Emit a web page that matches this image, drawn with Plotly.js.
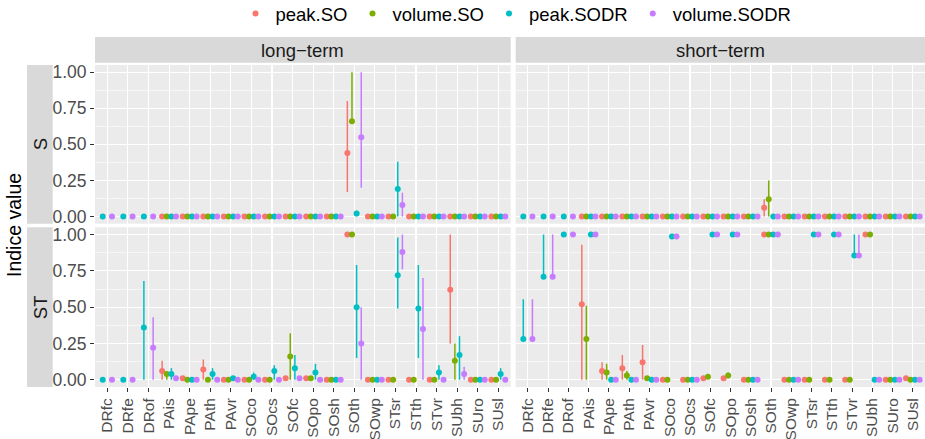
<!DOCTYPE html>
<html>
<head>
<meta charset="utf-8">
<script src="https://cdn.plot.ly/plotly-3.0.1.min.js"></script>
<style>html,body{margin:0;padding:0;background:#fff;}#chart{width:925px;height:439px;}</style>
</head>
<body>
<div id="chart"></div>
<script>
const N = null;
const categories = ['DRfc','DRfe','DRof','PAis','PApe','PAth','PAvr','SOco','SOcs','SOfc','SOpo','SOsh','SOth','SOwp','STsr','STth','STvr','SUbh','SUro','SUsl'];
const seriesNames = ['peak.SO','volume.SO','peak.SODR','volume.SODR'];
const seriesColors = ['#F8766D','#7CAE00','#00BFC4','#C77CFF'];
const rowLabels = ['S','ST'];
const colLabels = ['long\u2212term','short\u2212term'];
const yTickVals = [0,0.25,0.5,0.75,1];
const yTickText = ['0.00','0.25','0.50','0.75','1.00'];

// ---- S, long-term ----
const S_long_peakSO      = [N,N,N,0,0,0,0,0,0,0,0,0,0.44,0,0,0,0,0,0,0];
const S_long_peakSO_lo   = [N,N,N,N,N,N,N,N,N,N,N,N,0.17,N,N,N,N,N,N,N];
const S_long_peakSO_hi   = [N,N,N,N,N,N,N,N,N,N,N,N,0.80,N,N,N,N,N,N,N];
const S_long_volSO       = [N,N,N,0,0,0,0,0,0,0,0,0,0.66,0,0,0,0,0,0,0];
const S_long_volSO_lo    = [N,N,N,N,N,N,N,N,N,N,N,N,0.66,N,N,N,N,N,N,N];
const S_long_volSO_hi    = [N,N,N,N,N,N,N,N,N,N,N,N,1.00,N,N,N,N,N,N,N];
const S_long_peakSODR    = [0,0,0,0,0,0,0,0,0,0,0,0,0.02,0,0.19,0,0,0,0,0];
const S_long_peakSODR_lo = [N,N,N,N,N,N,N,N,N,N,N,N,0,N,0,N,N,N,N,N];
const S_long_peakSODR_hi = [N,N,N,N,N,N,N,N,N,N,N,N,0.04,N,0.38,N,N,N,N,N];
const S_long_volSODR     = [0,0,0,0,0,0,0,0,0,0,0,0,0.55,0,0.08,0,0,0,0,0];
const S_long_volSODR_lo  = [N,N,N,N,N,N,N,N,N,N,N,N,0.20,N,0,N,N,N,N,N];
const S_long_volSODR_hi  = [N,N,N,N,N,N,N,N,N,N,N,N,1.00,N,0.165,N,N,N,N,N];

// ---- S, short-term ----
const S_short_peakSO      = [N,N,N,0,0,0,0,0,0,0,0,0,0.06,0,0,0,0,0,0,0];
const S_short_peakSO_lo   = [N,N,N,N,N,N,N,N,N,N,N,N,0,N,N,N,N,N,N,N];
const S_short_peakSO_hi   = [N,N,N,N,N,N,N,N,N,N,N,N,0.12,N,N,N,N,N,N,N];
const S_short_volSO       = [N,N,N,0,0,0,0,0,0,0,0,0,0.12,0,0,0,0,0,0,0];
const S_short_volSO_lo    = [N,N,N,N,N,N,N,N,N,N,N,N,0,N,N,N,N,N,N,N];
const S_short_volSO_hi    = [N,N,N,N,N,N,N,N,N,N,N,N,0.25,N,N,N,N,N,N,N];
const S_short_peakSODR    = [0,0,0,0,0,0,0,0,0,0,0,0,0,0,0,0,0,0,0,0];
const S_short_peakSODR_lo = [N,N,N,N,N,N,N,N,N,N,N,N,N,N,N,N,N,N,N,N];
const S_short_peakSODR_hi = [N,N,N,N,N,N,N,N,N,N,N,N,N,N,N,N,N,N,N,N];
const S_short_volSODR     = [0,0,0,0,0,0,0,0,0,0,0,0,0,0,0,0,0,0,0,0];
const S_short_volSODR_lo  = [N,N,N,N,N,N,N,N,N,N,N,N,N,N,N,N,N,N,N,N];
const S_short_volSODR_hi  = [N,N,N,N,N,N,N,N,N,N,N,N,N,N,N,N,N,N,N,N];

// ---- ST, long-term ----
const ST_long_peakSO      = [N,N,N,0.06,0.01,0.07,0,0,0,0.01,0.01,0,1.00,0,0,0,0,0.62,0,0];
const ST_long_peakSO_lo   = [N,N,N,0,N,0,N,N,N,N,N,N,N,N,N,N,N,0.25,N,N];
const ST_long_peakSO_hi   = [N,N,N,0.13,N,0.14,N,N,N,N,N,N,N,N,N,N,N,1.00,N,N];
const ST_long_volSO       = [N,N,N,0.04,0,0,0,0,0,0.16,0.01,0,1.00,0,0,0,0,0.13,0,0];
const ST_long_volSO_lo    = [N,N,N,0,N,N,N,N,N,0,N,N,N,N,N,N,N,0,N,N];
const ST_long_volSO_hi    = [N,N,N,0.05,N,N,N,N,N,0.32,N,N,N,N,N,N,N,0.25,N,N];
const ST_long_peakSODR    = [0,0,0.36,0.04,0,0.04,0.01,0.02,0.06,0.08,0.05,0,0.50,0,0.72,0.49,0.05,0.17,0,0.04];
const ST_long_peakSODR_lo = [N,N,0,0,N,0,N,0,0,0,0,N,0.15,N,0.49,0.15,0,0,N,0];
const ST_long_peakSODR_hi = [N,N,0.68,0.08,N,0.08,N,0.05,0.10,0.17,0.11,N,0.79,N,0.98,0.79,0.10,0.30,N,0.08];
const ST_long_volSODR     = [0,0,0.22,0.01,0,0,0,0,0,0.01,0,0,0.25,0,0.88,0.35,0,0.04,0,0];
const ST_long_volSODR_lo  = [N,N,0,N,N,N,N,N,N,N,N,N,0,N,0.76,0,N,0,N,N];
const ST_long_volSODR_hi  = [N,N,0.43,N,N,N,N,N,N,N,N,N,0.50,N,1.00,0.70,N,0.09,N,N];

// ---- ST, short-term ----
const ST_short_peakSO      = [N,N,N,0.52,0.06,0.08,0.12,0,0,0.01,0.01,0,1.00,0,0,0,0,1.00,0,0.01];
const ST_short_peakSO_lo   = [N,N,N,0,0,0,0,N,N,N,N,N,N,N,N,N,N,N,N,N];
const ST_short_peakSO_hi   = [N,N,N,0.93,0.12,0.17,0.24,N,N,N,N,N,N,N,N,N,N,N,N,N];
const ST_short_volSO       = [N,N,N,0.28,0.05,0.03,0.01,0,0,0.02,0.03,0,1.00,0,0,0,0,1.00,0,0];
const ST_short_volSO_lo    = [N,N,N,0,0,0,N,N,N,N,0.01,N,N,N,N,N,N,N,N,N];
const ST_short_volSO_hi    = [N,N,N,0.51,0.11,0.06,N,N,N,N,0.05,N,N,N,N,N,N,N,N,N];
const ST_short_peakSODR    = [0.28,0.71,1.00,1.00,0,0,0,0.986,0,1.00,1.00,0,1.00,0,1.00,1.00,0.856,0,0,0];
const ST_short_peakSODR_lo = [0.28,0.71,N,N,N,N,N,N,N,N,N,N,N,N,N,N,0.856,N,N,N];
const ST_short_peakSODR_hi = [0.555,1.00,N,N,N,N,N,N,N,N,N,N,N,N,N,N,1.00,N,N,N];
const ST_short_volSODR     = [0.28,0.71,1.00,1.00,0,0,0,0.986,0,1.00,1.00,0,1.00,0,1.00,1.00,0.856,0,0,0];
const ST_short_volSODR_lo  = [0.28,0.71,N,N,N,N,N,N,N,N,N,N,N,N,N,N,0.856,N,N,N];
const ST_short_volSODR_hi  = [0.555,1.00,N,N,N,N,N,N,N,N,N,N,N,N,N,N,1.00,N,N,N];

const panels = [
  {xa:'x',  ya:'y',  series:[[S_long_peakSO,S_long_peakSO_lo,S_long_peakSO_hi],[S_long_volSO,S_long_volSO_lo,S_long_volSO_hi],[S_long_peakSODR,S_long_peakSODR_lo,S_long_peakSODR_hi],[S_long_volSODR,S_long_volSODR_lo,S_long_volSODR_hi]]},
  {xa:'x2', ya:'y',  series:[[S_short_peakSO,S_short_peakSO_lo,S_short_peakSO_hi],[S_short_volSO,S_short_volSO_lo,S_short_volSO_hi],[S_short_peakSODR,S_short_peakSODR_lo,S_short_peakSODR_hi],[S_short_volSODR,S_short_volSODR_lo,S_short_volSODR_hi]]},
  {xa:'x',  ya:'y2', series:[[ST_long_peakSO,ST_long_peakSO_lo,ST_long_peakSO_hi],[ST_long_volSO,ST_long_volSO_lo,ST_long_volSO_hi],[ST_long_peakSODR,ST_long_peakSODR_lo,ST_long_peakSODR_hi],[ST_long_volSODR,ST_long_volSODR_lo,ST_long_volSODR_hi]]},
  {xa:'x2', ya:'y2', series:[[ST_short_peakSO,ST_short_peakSO_lo,ST_short_peakSO_hi],[ST_short_volSO,ST_short_volSO_lo,ST_short_volSO_hi],[ST_short_peakSODR,ST_short_peakSODR_lo,ST_short_peakSODR_hi],[ST_short_volSODR,ST_short_volSODR_lo,ST_short_volSODR_hi]]}
];

const DODGE = 0.9;
const traces = [];
panels.forEach((p, pi) => {
  const xs = p.series.map(() => []);
  categories.forEach((c, i) => {
    const present = p.series.map(s => s[0][i] !== null);
    const n = present.filter(Boolean).length;
    let k = 0;
    p.series.forEach((s, si) => {
      if (present[si]) {
        xs[si][i] = (i + 1) - DODGE/2 + (k + 0.5) * DODGE / n;
        k++;
      } else xs[si][i] = null;
    });
  });
  p.series.forEach((s, si) => {
    const [v, lo, hi] = s;
    const X = [], Y = [], plus = [], minus = [];
    v.forEach((val, i) => {
      if (val === null) return;
      X.push(xs[si][i]); Y.push(val);
      plus.push(hi[i] === null ? 0 : hi[i] - val);
      minus.push(lo[i] === null ? 0 : val - lo[i]);
    });
    traces.push({
      type:'scatter', mode:'markers', x:X, y:Y, xaxis:p.xa, yaxis:p.ya,
      name:seriesNames[si], legendgroup:seriesNames[si], showlegend: pi === 0,
      marker:{color:seriesColors[si], size:6},
      error_y:{type:'data', symmetric:false, array:plus, arrayminus:minus, width:0, thickness:1.5, color:seriesColors[si]},
      cliponaxis:false, hoverinfo:'skip'
    });
  });
});

const W = 925, H = 439, ML = 95, MR = 0, MT = 65, MB = 52;
const PW = W - ML - MR, PH = H - MT - MB;
const px = x => (x - ML) / PW;
const py = y => (H - MB - y) / PH;

const xLong = [0, px(510.7)], xShort = [px(515.7), 1];
const yS = [py(223.7), 1], yST = [0, py(227.3)];

const tickIdx = categories.map((c, i) => i + 1);
const xax = dom => ({
  domain:dom, range:[0.4, 20.6], anchor:'y2', tickmode:'array', tickvals:tickIdx, ticktext:categories,
  tickangle:-90, ticks:'outside', ticklen:4, tickwidth:1, tickcolor:'#333333',
  showgrid:true, gridcolor:'#FFFFFF', gridwidth:1.1, zeroline:false, showline:false,
  tickfont:{size:15.5, color:'#4D4D4D'}, fixedrange:true
});
const yax = dom => ({
  domain:dom, range:[-0.05, 1.05], anchor:'x', tickmode:'array', tickvals:yTickVals, ticktext:yTickText,
  ticks:'outside', ticklen:4, tickwidth:1, tickcolor:'#333333',
  showgrid:true, gridcolor:'#FFFFFF', gridwidth:1.1, zeroline:false, showline:false,
  minor:{tickvals:[0.125,0.375,0.625,0.875], showgrid:true, gridcolor:'#FFFFFF', gridwidth:0.55, ticks:''},
  tickfont:{size:17.5, color:'#4D4D4D'}, fixedrange:true
});

const stripFill = '#D9D9D9';
const shapes = [
  {type:'rect', xref:'paper', yref:'paper', x0:xLong[0], x1:xLong[1], y0:py(62.7), y1:py(37), fillcolor:stripFill, line:{width:0}, layer:'below'},
  {type:'rect', xref:'paper', yref:'paper', x0:xShort[0], x1:xShort[1], y0:py(62.7), y1:py(37), fillcolor:stripFill, line:{width:0}, layer:'below'},
  {type:'rect', xref:'paper', yref:'paper', x0:px(27), x1:px(52.7), y0:yS[0], y1:yS[1], fillcolor:stripFill, line:{width:0}, layer:'below'},
  {type:'rect', xref:'paper', yref:'paper', x0:px(27), x1:px(52.7), y0:yST[0], y1:yST[1], fillcolor:stripFill, line:{width:0}, layer:'below'}
];
const stripFont = {size:18.5, color:'#1A1A1A'};
const annotations = [
  {text:colLabels[0], xref:'paper', yref:'paper', x:(xLong[0]+xLong[1])/2, y:py(50), showarrow:false, font:stripFont, xanchor:'center', yanchor:'middle'},
  {text:colLabels[1], xref:'paper', yref:'paper', x:(xShort[0]+xShort[1])/2, y:py(50), showarrow:false, font:stripFont, xanchor:'center', yanchor:'middle'},
  {text:rowLabels[0], xref:'paper', yref:'paper', x:px(40), y:(yS[0]+yS[1])/2, showarrow:false, font:stripFont, textangle:-90, xanchor:'center', yanchor:'middle'},
  {text:rowLabels[1], xref:'paper', yref:'paper', x:px(40), y:(yST[0]+yST[1])/2, showarrow:false, font:stripFont, textangle:-90, xanchor:'center', yanchor:'middle'},
  {text:'Indice value', xref:'paper', yref:'paper', x:px(14), y:py(225), showarrow:false, font:{size:19.5, color:'#000000'}, textangle:-90, xanchor:'center', yanchor:'middle'}
];

const layout = {
  width:W, height:H,
  margin:{l:ML, r:MR, t:MT, b:MB, autoexpand:false},
  paper_bgcolor:'#FFFFFF', plot_bgcolor:'#EBEBEB',
  font:{family:'"Liberation Sans", Arial, Helvetica, sans-serif', size:16, color:'#4D4D4D'},
  xaxis:xax(xLong), xaxis2:xax(xShort),
  yaxis:yax(yS), yaxis2:yax(yST),
  showlegend:true,
  legend:{orientation:'h', x:px(516), xanchor:'center', y:py(14), yanchor:'middle', font:{size:18.5, color:'#000000'},
          bgcolor:'rgba(0,0,0,0)', itemwidth:30, tracegroupgap:0, traceorder:'normal'},
  shapes:shapes, annotations:annotations
};

Plotly.newPlot('chart', traces, layout, {displayModeBar:false, staticPlot:true});
</script>
</body>
</html>
